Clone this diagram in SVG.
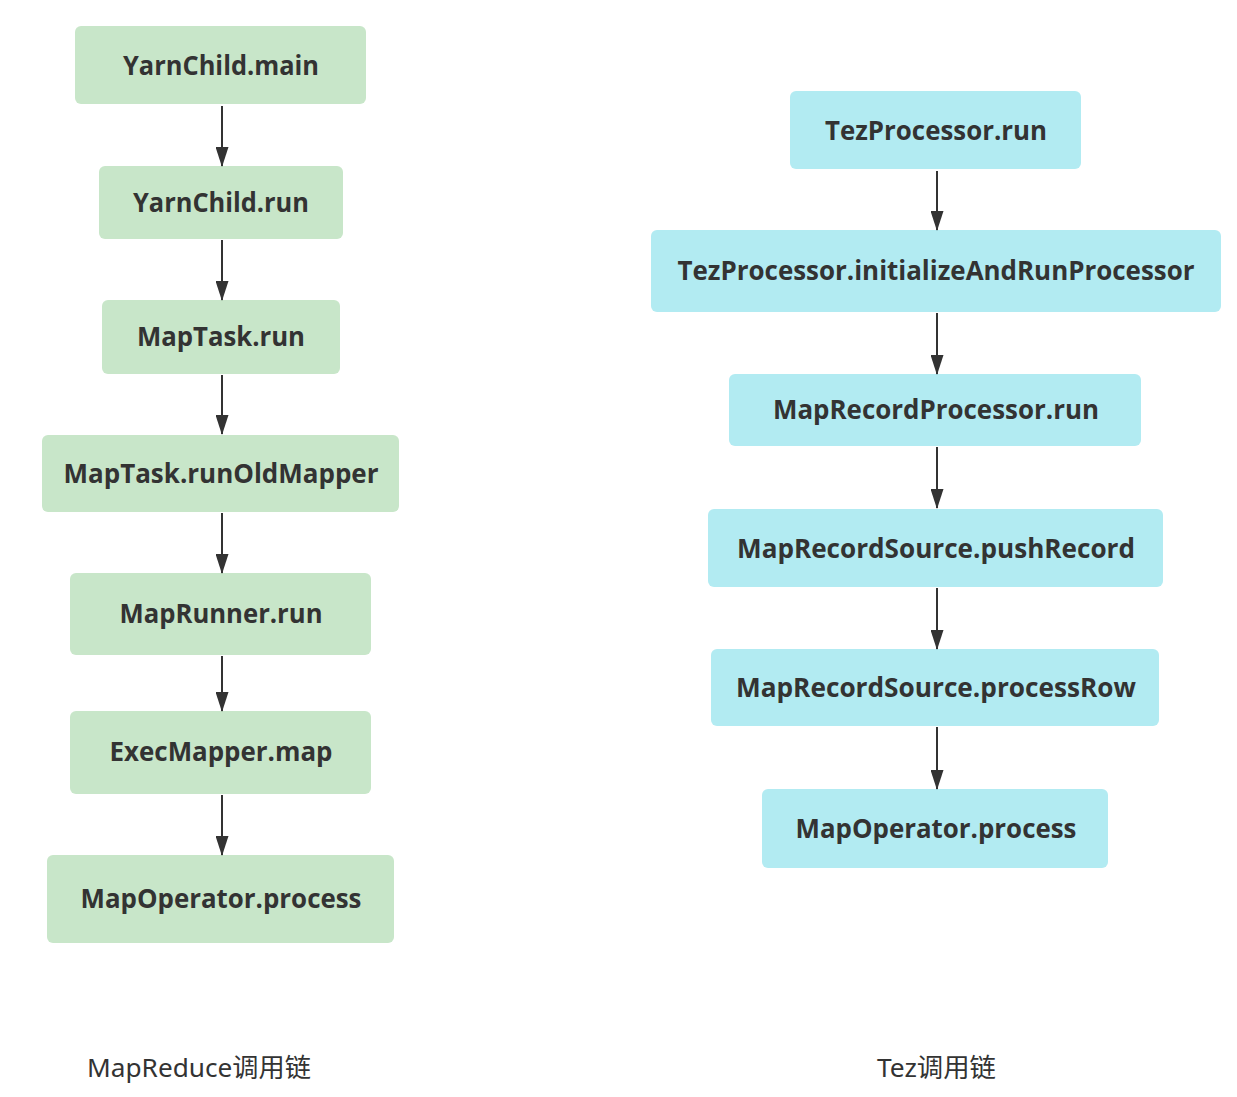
<svg xmlns="http://www.w3.org/2000/svg" width="1237" height="1097" viewBox="0 0 1237 1097">
<style>
.g rect{fill:#c8e6c9}
.c rect{fill:#b2ebf2}
.n text{font-family:"Open Sans","Noto Sans","Noto Sans CJK SC",sans-serif;font-weight:bold;font-size:26.5px;fill:#333;text-anchor:middle;dominant-baseline:central}
.lbl{font-family:"Noto Sans","Noto Sans CJK SC",sans-serif;font-size:26px;fill:#333;dominant-baseline:central}
.e line{stroke:#333;stroke-width:2;marker-end:url(#ah)}
</style>
<defs>
<marker id="ah" markerUnits="userSpaceOnUse" markerWidth="20" markerHeight="13" refX="19" refY="6.5" orient="auto" viewBox="0 0 20 13">
<path d="M0,0 L20,6.5 L0,13 Z" fill="#333"/>
</marker>
</defs>
<rect width="1237" height="1097" fill="#fff"/>
<g id="n1" class="n g"><rect x="75" y="26" width="291" height="78" rx="6"/><text x="221" y="65" textLength="196" lengthAdjust="spacingAndGlyphs">YarnChild.main</text></g>
<g id="n2" class="n g"><rect x="99" y="166" width="244" height="73" rx="6"/><text x="221" y="202" textLength="176" lengthAdjust="spacingAndGlyphs">YarnChild.run</text></g>
<g id="n3" class="n g"><rect x="102" y="300" width="238" height="74" rx="6"/><text x="221" y="336" textLength="168" lengthAdjust="spacingAndGlyphs">MapTask.run</text></g>
<g id="n4" class="n g"><rect x="42" y="435" width="357" height="77" rx="6"/><text x="221" y="473" textLength="315" lengthAdjust="spacingAndGlyphs">MapTask.runOldMapper</text></g>
<g id="n5" class="n g"><rect x="70" y="573" width="301" height="82" rx="6"/><text x="221" y="613" textLength="203" lengthAdjust="spacingAndGlyphs">MapRunner.run</text></g>
<g id="n6" class="n g"><rect x="70" y="711" width="301" height="83" rx="6"/><text x="221" y="751" textLength="223" lengthAdjust="spacingAndGlyphs">ExecMapper.map</text></g>
<g id="n7" class="n g"><rect x="47" y="855" width="347" height="88" rx="6"/><text x="221" y="898" textLength="281" lengthAdjust="spacingAndGlyphs">MapOperator.process</text></g>

<g id="t1" class="n c"><rect x="790" y="91" width="291" height="78" rx="6"/><text x="936" y="130" textLength="222" lengthAdjust="spacingAndGlyphs">TezProcessor.run</text></g>
<g id="t2" class="n c"><rect x="651" y="230" width="570" height="82" rx="6"/><text x="936" y="270" textLength="517" lengthAdjust="spacingAndGlyphs">TezProcessor.initializeAndRunProcessor</text></g>
<g id="t3" class="n c"><rect x="729" y="374" width="412" height="72" rx="6"/><text x="936" y="409" textLength="326" lengthAdjust="spacingAndGlyphs">MapRecordProcessor.run</text></g>
<g id="t4" class="n c"><rect x="708" y="509" width="455" height="78" rx="6"/><text x="936" y="548" textLength="398" lengthAdjust="spacingAndGlyphs">MapRecordSource.pushRecord</text></g>
<g id="t5" class="n c"><rect x="711" y="649" width="448" height="77" rx="6"/><text x="936" y="687" textLength="400" lengthAdjust="spacingAndGlyphs">MapRecordSource.processRow</text></g>
<g id="t6" class="n c"><rect x="762" y="789" width="346" height="79" rx="6"/><text x="936" y="828" textLength="281" lengthAdjust="spacingAndGlyphs">MapOperator.process</text></g>

<g id="edges" class="e">
<line x1="222" y1="106" x2="222" y2="166"/>
<line x1="222" y1="240" x2="222" y2="300"/>
<line x1="222" y1="375" x2="222" y2="434"/>
<line x1="222" y1="513" x2="222" y2="573"/>
<line x1="222" y1="656" x2="222" y2="711"/>
<line x1="222" y1="795" x2="222" y2="855"/>
<line x1="937" y1="171" x2="937" y2="230"/>
<line x1="937" y1="313" x2="937" y2="374"/>
<line x1="937" y1="447" x2="937" y2="508"/>
<line x1="937" y1="588" x2="937" y2="649"/>
<line x1="937" y1="727" x2="937" y2="789"/>
</g>
<text class="lbl" x="87" y="1067" textLength="224" lengthAdjust="spacingAndGlyphs">MapReduce调用链</text>
<text class="lbl" x="877" y="1067" textLength="119" lengthAdjust="spacingAndGlyphs">Tez调用链</text>
</svg>
